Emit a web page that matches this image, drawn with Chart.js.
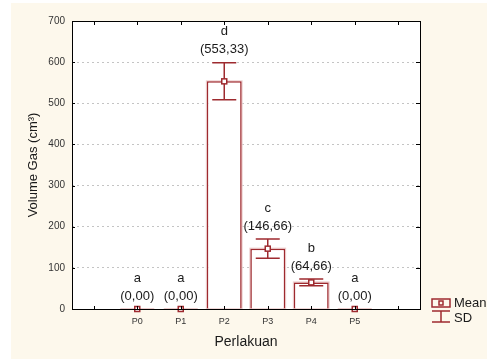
<!DOCTYPE html>
<html>
<head>
<meta charset="utf-8">
<script src="https://cdn.jsdelivr.net/npm/chart.js@4.4.0/dist/chart.umd.min.js"></script>
<style>
  html, body { margin: 0; padding: 0; background: #ffffff; }
  #wrap { position: relative; width: 487px; height: 359px; }
</style>
</head>
<body>
<div id="wrap"><canvas id="chart" width="487" height="359"></canvas></div>
<script>
// Data
const categories = ['P0', 'P1', 'P2', 'P3', 'P4', 'P5'];
const means = [0, 0, 553.33, 146.66, 64.66, 0];
const sds = [0, 0, 45, 23.5, 8, 0];
const letters = ['a', 'a', 'd', 'c', 'b', 'a'];
const valueLabels = ['(0,00)', '(0,00)', '(553,33)', '(146,66)', '(64,66)', '(0,00)'];
const yTicks = [0, 100, 200, 300, 400, 500, 600, 700];

const red = '#9e2a2f';
const pink = '#eccccc';
const cream = '#fdf8ec';
const font = "'Liberation Sans', Arial, sans-serif";

// one empty slot either side, like the original axis
const labels = [''].concat(categories, ['']);
const barData = [null].concat(means, [null]);

const decorPlugin = {
    id: 'decor',
    beforeDraw(chart) {
        const ctx = chart.ctx;
        const a = chart.chartArea;
        ctx.save();
        ctx.fillStyle = '#ffffff';
        ctx.fillRect(0, 0, chart.width, chart.height);
        ctx.fillStyle = cream;
        ctx.fillRect(11, 3, chart.width - 11, chart.height - 3);
        ctx.fillStyle = '#ffffff';
        ctx.fillRect(a.left, a.top, a.right - a.left, a.bottom - a.top);
        ctx.restore();
    },
    beforeDatasetsDraw(chart) {
        // soft pink edge round each bar
        const ctx = chart.ctx;
        ctx.save();
        ctx.strokeStyle = pink;
        ctx.lineWidth = 2;
        chart.getDatasetMeta(0).data.forEach((bar, i) => {
            if (barData[i] === null || barData[i] === 0) return;
            const w = bar.width / 2;
            ctx.strokeRect(bar.x - w, bar.y, bar.width, bar.base - bar.y);
        });
        ctx.restore();
    },
    afterDatasetsDraw(chart) {
        const ctx = chart.ctx;
        const a = chart.chartArea;
        const x = chart.scales.x;
        const y = chart.scales.y;
        ctx.save();

        // error bars, mean markers and labels
        means.forEach((m, i) => {
            const cx = x.getPixelForValue(i + 1);
            const yTop = y.getPixelForValue(m + sds[i]);
            const yBot = y.getPixelForValue(m - sds[i]);
            const yMean = y.getPixelForValue(m);
            ctx.strokeStyle = red;
            ctx.lineWidth = 1.5;
            if (sds[i] > 0) {
                ctx.beginPath();
                ctx.moveTo(cx, yTop); ctx.lineTo(cx, yBot);
                ctx.moveTo(cx - 12, yTop); ctx.lineTo(cx + 12, yTop);
                ctx.moveTo(cx - 12, yBot); ctx.lineTo(cx + 12, yBot);
                ctx.stroke();
            } else {
                ctx.strokeStyle = pink;
                ctx.lineWidth = 2;
                ctx.beginPath();
                ctx.moveTo(cx - 17, yMean); ctx.lineTo(cx + 17, yMean);
                ctx.stroke();
            }
            ctx.fillStyle = '#ffffff';
            ctx.strokeStyle = red;
            ctx.lineWidth = 1.5;
            ctx.fillRect(cx - 2.5, yMean - 2.5, 5, 5);
            ctx.strokeRect(cx - 2.5, yMean - 2.5, 5, 5);

            ctx.fillStyle = '#1a1a1a';
            ctx.font = '13px ' + font;
            ctx.textAlign = 'center';
            ctx.textBaseline = 'middle';
            ctx.fillText(valueLabels[i], cx, yTop - 13);
            ctx.fillText(letters[i], cx, yTop - 31);
        });

        // frame with inward ticks
        ctx.strokeStyle = '#000000';
        ctx.lineWidth = 1;
        ctx.strokeRect(a.left + 0.5, a.top + 0.5, a.right - a.left, a.bottom - a.top);
        ctx.beginPath();
        for (let i = 0; i < labels.length; i++) {
            const px = Math.round(x.getPixelForValue(i)) + 0.5;
            ctx.moveTo(px, a.top); ctx.lineTo(px, a.top + 4);
            ctx.moveTo(px, a.bottom); ctx.lineTo(px, a.bottom - 3);
        }
        yTicks.forEach(v => {
            const py = Math.round(y.getPixelForValue(v)) + 0.5;
            ctx.moveTo(a.right, py); ctx.lineTo(a.right - 4, py);
            ctx.moveTo(a.left, py); ctx.lineTo(a.left + 3, py);
        });
        ctx.stroke();

        // legend
        const lx = a.right + 12;
        const ly = a.bottom - 6;
        ctx.strokeStyle = red;
        ctx.lineWidth = 1.5;
        ctx.strokeRect(lx, ly - 4, 18, 8);
        ctx.strokeRect(lx + 7, ly - 2, 4, 4);
        ctx.beginPath();
        ctx.moveTo(lx, ly + 8); ctx.lineTo(lx + 18, ly + 8);
        ctx.moveTo(lx + 9, ly + 8); ctx.lineTo(lx + 9, ly + 19);
        ctx.moveTo(lx, ly + 19); ctx.lineTo(lx + 18, ly + 19);
        ctx.stroke();
        ctx.fillStyle = '#1a1a1a';
        ctx.font = '13px ' + font;
        ctx.textAlign = 'left';
        ctx.textBaseline = 'middle';
        ctx.fillText('Mean', lx + 22, ly);
        ctx.fillText('SD', lx + 22, ly + 15);
        ctx.restore();
    }
};

new Chart(document.getElementById('chart'), {
    type: 'bar',
    data: {
        labels: labels,
        datasets: [{
            data: barData,
            backgroundColor: '#ffffff',
            borderColor: red,
            borderWidth: 1.5,
            borderSkipped: 'bottom',
            categoryPercentage: 1,
            barPercentage: 0.8
        }]
    },
    options: {
        responsive: false,
        animation: false,
        layout: { padding: { left: 0, top: 21, right: 67, bottom: 0 } },
        plugins: {
            legend: { display: false },
            tooltip: { enabled: false }
        },
        scales: {
            x: {
                offset: true,
                grid: { display: false, drawTicks: false },
                border: { display: false },
                ticks: {
                    color: '#333333',
                    padding: 7,
                    maxRotation: 0,
                    autoSkip: false,
                    font: { family: font, size: 9 }
                },
                title: {
                    display: true,
                    text: 'Perlakuan',
                    color: '#1a1a1a',
                    padding: { top: 0, bottom: 8 },
                    font: { family: font, size: 14 }
                },
                afterFit: s => { s.height = 50; }
            },
            y: {
                min: 0,
                max: 700,
                afterBuildTicks: s => { s.ticks = yTicks.map(v => ({ value: v })); },
                grid: {
                    drawTicks: false,
                    color: ctx => (ctx.tick && (ctx.tick.value === 0 || ctx.tick.value === 700)) ? 'rgba(0,0,0,0)' : '#c4c4c4',
                    lineWidth: 1
                },
                border: { display: false, dash: [2, 3] },
                ticks: {
                    color: '#333333',
                    padding: 7,
                    font: { family: font, size: 10 }
                },
                title: {
                    display: true,
                    text: 'Volume Gas (cm³)',
                    color: '#1a1a1a',
                    padding: { top: 26, bottom: 0 },
                    font: { family: font, size: 13 }
                },
                afterFit: s => { s.width = 72; }
            }
        }
    },
    plugins: [decorPlugin]
});
</script>
</body>
</html>
